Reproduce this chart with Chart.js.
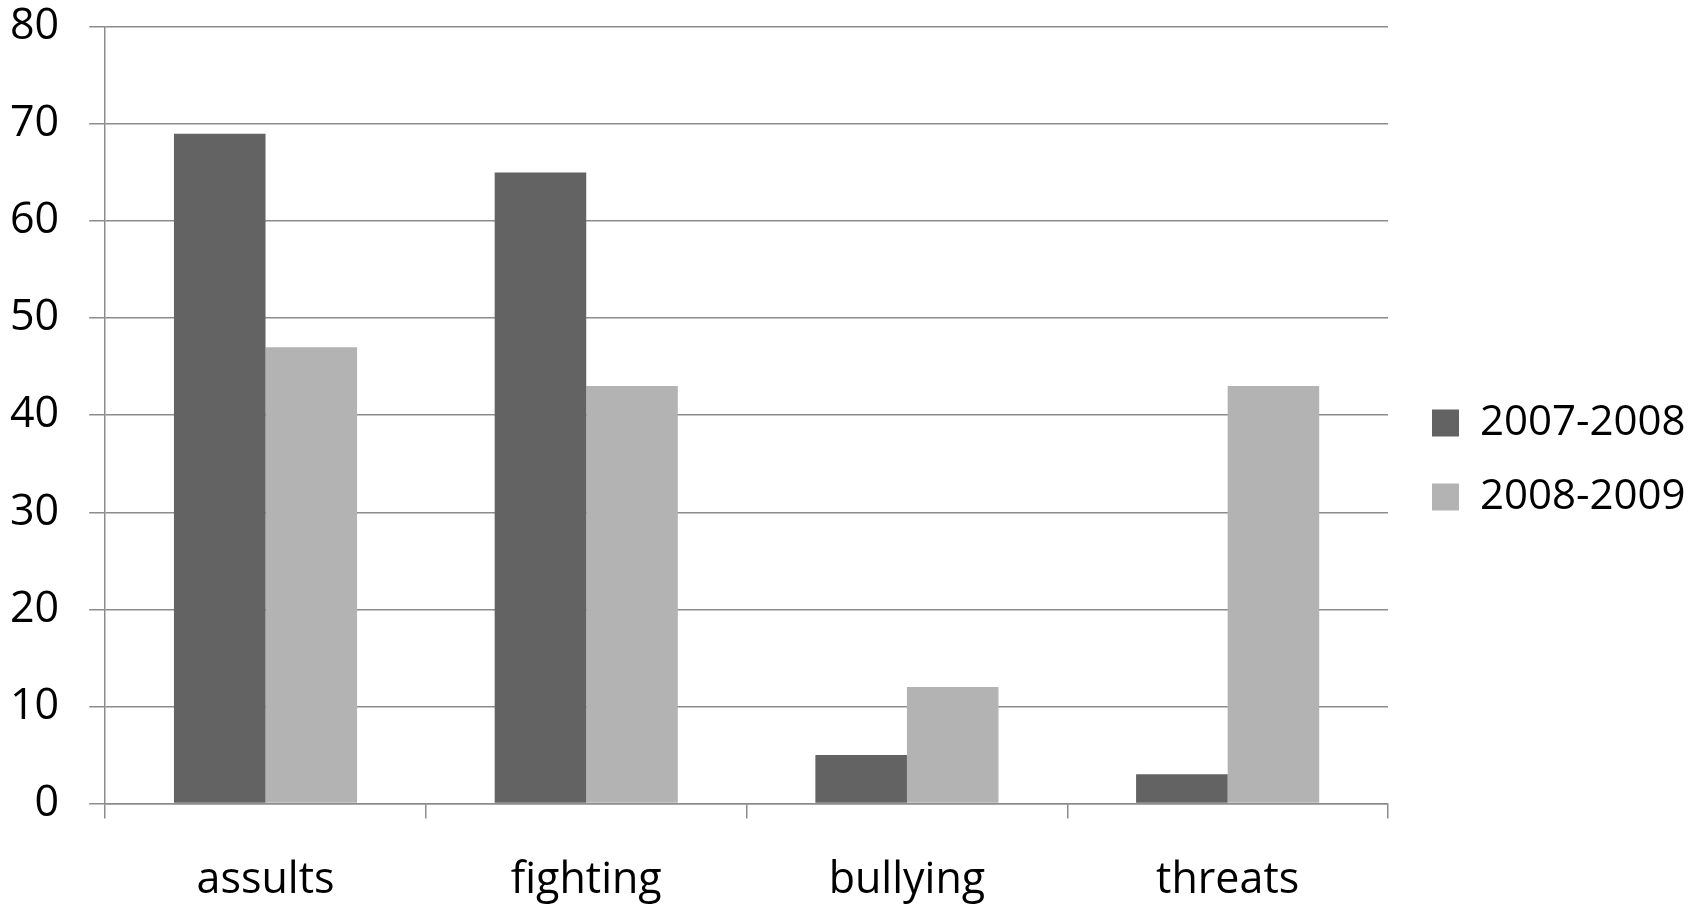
<!DOCTYPE html>
<html>
<head>
<meta charset="utf-8">
<script src="https://cdn.jsdelivr.net/npm/chart.js@4"></script>
<style>
  html, body { margin: 0; padding: 0; background: #fff; }
  #wrap { width: 1704px; height: 905px; }
</style>
</head>
<body>
<div id="wrap"><canvas id="barChart"></canvas></div>
<script>
const categories = ['assults', 'fighting', 'bullying', 'threats'];
const series2007 = [69, 65, 5, 3];
const series2008 = [47, 43, 12, 43];
const yTicks = [0, 10, 20, 30, 40, 50, 60, 70, 80];

const gridColor = '#8c8c8c';
const fontFamily = '"Open Sans", sans-serif';

// chart.js reserves tick padding twice, the negative padding gives it back
new Chart(document.getElementById('barChart'), {
  type: 'bar',
  data: {
    labels: categories,
    datasets: [{
      label: '2007-2008',
      data: series2007,
      backgroundColor: '#636363',
      borderWidth: 0
    }, {
      label: '2008-2009',
      data: series2008,
      backgroundColor: '#b3b3b3',
      borderWidth: 0
    }]
  },
  options: {
    responsive: true,
    maintainAspectRatio: false,
    animation: false,
    categoryPercentage: 0.571,
    barPercentage: 1,
    layout: {
      padding: { left: -20, top: -24, right: 20, bottom: -39 }
    },
    plugins: {
      tooltip: { enabled: false },
      legend: {
        position: 'right',
        labels: {
          color: '#000',
          boxWidth: 27,
          boxHeight: 27,
          padding: 32,
          font: { family: fontFamily, size: 42 }
        }
      }
    },
    scales: {
      x: {
        grid: {
          offset: true,
          drawOnChartArea: false,
          color: gridColor,
          lineWidth: 1.5,
          tickLength: 15
        },
        border: { display: true, color: gridColor, width: 1.5 },
        ticks: {
          color: '#000',
          padding: 37,
          font: { family: fontFamily, size: 43 }
        }
      },
      y: {
        min: 0,
        max: 80,
        afterBuildTicks: (scale) => {
          scale.ticks = yTicks.map(v => ({ value: v }));
        },
        // top label only needs half its height above the plot
        afterFit: (scale) => { scale.paddingTop = 27; },
        grid: {
          color: gridColor,
          lineWidth: 1.5,
          tickLength: 16
        },
        border: { display: true, color: gridColor, width: 1.5 },
        ticks: {
          color: '#000',
          padding: 30,
          font: { family: fontFamily, size: 43 }
        }
      },
      // empty axis, only a gap between plot and legend
      gap: {
        position: 'right',
        grid: { display: false },
        border: { display: false },
        ticks: { display: false },
        afterFit: (scale) => { scale.width = 12; }
      }
    }
  }
});
</script>
</body>
</html>
